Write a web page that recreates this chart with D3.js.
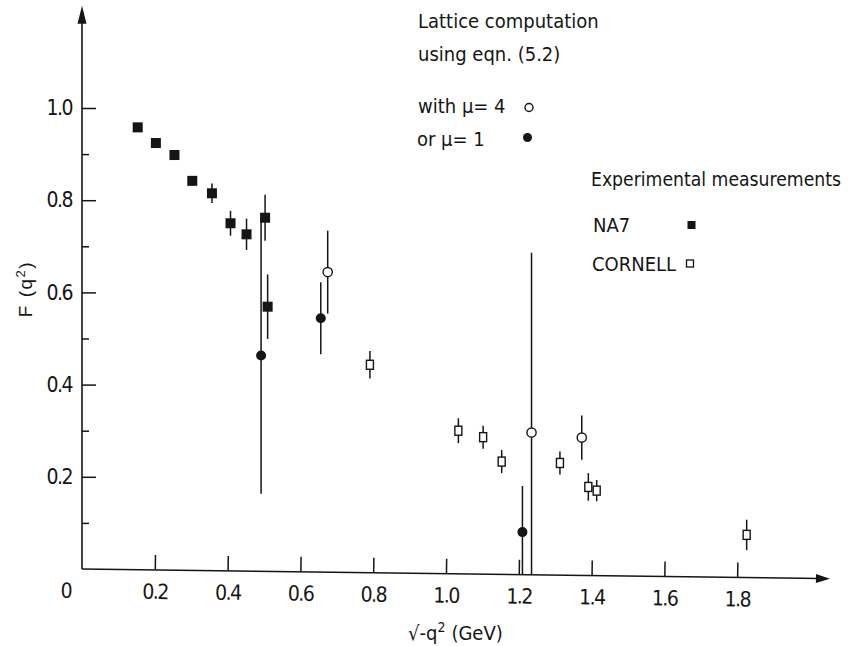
<!DOCTYPE html>
<html>
<head>
<meta charset="utf-8">
<script src="https://cdn.jsdelivr.net/npm/d3@7"></script>
<style>
  body { margin: 0; background: #fff; }
  svg { display: block; }
  .cond { font-family: "DejaVu Sans Condensed", "DejaVu Sans", sans-serif; fill: #151515; }
  .tick text { font-family: "DejaVu Sans Condensed", "DejaVu Sans", sans-serif; fill: #151515; }
</style>
</head>
<body>
<svg id="chart" width="848" height="646"></svg>
<script>
// NA7 measurements (filled squares)
const na7X   = [0.153, 0.203, 0.254, 0.303, 0.357, 0.408, 0.452, 0.503, 0.510];
const na7F   = [0.958, 0.924, 0.898, 0.842, 0.815, 0.750, 0.726, 0.762, 0.569];
const na7Err = [0.010, 0.010, 0.010, 0.010, 0.021, 0.027, 0.034, 0.050, 0.070];

// CORNELL measurements (open squares)
const cornellX   = [0.791, 1.034, 1.102, 1.153, 1.313, 1.391, 1.414, 1.826];
const cornellF   = [0.443, 0.300, 0.286, 0.233, 0.230, 0.178, 0.170, 0.074];
const cornellErr = [0.030, 0.027, 0.025, 0.025, 0.025, 0.030, 0.023, 0.033];

// Lattice computation, mu = 4 (open circles)
const mu4X   = [0.675, 1.235, 1.373];
const mu4F   = [0.644, 0.296, 0.285];
const mu4Err = [0.090, 0.390, 0.048];

// Lattice computation, mu = 1 (filled circles)
const mu1X   = [0.492, 0.656, 1.210];
const mu1F   = [0.463, 0.544, 0.080];
const mu1Err = [0.300, 0.078, 0.100];

// Axis ticks
const xTicks      = [0.2, 0.4, 0.6, 0.8, 1.0, 1.2, 1.4, 1.6, 1.8];
const yTicks      = [0.2, 0.4, 0.6, 0.8, 1.0];
const yMinorTicks = [0.1, 0.3, 0.5, 0.7, 0.9];
const xAxisEnd = 2.055;
const yAxisEnd = 1.222;

const ink = "#151515";
const svg = d3.select("#chart");

const x = d3.scaleLinear().domain([0, 1]).range([82, 446]);
const y = d3.scaleLinear().domain([0, 1]).range([569, 108]);

// the horizontal axis is drawn with a slight downward slant
const tiltDeg = 0.74;
const tilt = Math.tan(tiltDeg * Math.PI / 180);
const baseAt = px => y(0) + (px - x(0)) * tilt;

// ---- vertical axis ----
const yg = svg.append("g");
yg.append("line")
  .attr("x1", x(0)).attr("x2", x(0))
  .attr("y1", y(0)).attr("y2", y(yAxisEnd) + 12)
  .attr("stroke", ink).attr("stroke-width", 1.6);
yg.append("path")
  .attr("d", `M${x(0)},${y(yAxisEnd)} L${x(0) - 4.5},${y(yAxisEnd) + 18} L${x(0) + 4.5},${y(yAxisEnd) + 18} Z`)
  .attr("fill", ink);

const yAxis = d3.axisLeft(y)
  .tickValues(yTicks)
  .tickFormat(d3.format(".1f"))
  .tickSizeInner(-14).tickSizeOuter(0).tickPadding(10);
yg.append("g").attr("transform", `translate(${x(0)},0)`).call(yAxis)
  .call(g => g.select(".domain").remove())
  .call(g => g.selectAll(".tick line").attr("stroke", ink).attr("stroke-width", 1.5))
  .call(g => g.selectAll(".tick text").attr("font-size", 21).attr("letter-spacing", -1.5));

const yMinor = d3.axisLeft(y).tickValues(yMinorTicks).tickFormat("")
  .tickSizeInner(-7).tickSizeOuter(0);
yg.append("g").attr("transform", `translate(${x(0)},0)`).call(yMinor)
  .call(g => g.select(".domain").remove())
  .call(g => g.selectAll(".tick line").attr("stroke", ink).attr("stroke-width", 1.5));

// ---- horizontal axis ----
const xg = svg.append("g").attr("transform", `rotate(${tiltDeg},${x(0)},${y(0)})`);
xg.append("line")
  .attr("x1", x(0)).attr("x2", x(xAxisEnd) - 10)
  .attr("y1", y(0)).attr("y2", y(0))
  .attr("stroke", ink).attr("stroke-width", 1.6);
xg.append("path")
  .attr("d", `M${x(xAxisEnd)},${y(0)} L${x(xAxisEnd) - 14},${y(0) - 4.5} L${x(xAxisEnd) - 14},${y(0) + 4.5} Z`)
  .attr("fill", ink);

const xAxis = d3.axisBottom(x)
  .tickValues(xTicks)
  .tickFormat(d3.format(".1f"))
  .tickSizeInner(-15).tickSizeOuter(0).tickPadding(14);
xg.append("g").attr("transform", `translate(0,${y(0)})`).call(xAxis)
  .call(g => g.select(".domain").remove())
  .call(g => g.selectAll(".tick line").attr("stroke", ink).attr("stroke-width", 1.5))
  .call(g => g.selectAll(".tick text").attr("font-size", 21).attr("letter-spacing", -1.5));

// origin label
xg.append("text").attr("class", "cond")
  .attr("x", x(0) - 15).attr("y", y(0) + 14).attr("dy", "0.71em")
  .attr("text-anchor", "middle").attr("font-size", 21)
  .text("0");

// ---- axis titles ----
svg.append("text")
  .attr("transform", "translate(32,289) rotate(-90)")
  .attr("text-anchor", "middle")
  .attr("font-family", "'Liberation Sans', Arial, sans-serif")
  .attr("font-size", 19).attr("letter-spacing", 1.5).attr("fill", ink)
  .call(t => {
    t.append("tspan").text("F (q");
    t.append("tspan").attr("font-size", 13).attr("dy", -7).text("2");
    t.append("tspan").attr("dy", 7).text(")");
  });

svg.append("text").attr("class", "cond")
  .attr("x", 408).attr("y", 640)
  .attr("font-size", 20)
  .call(t => {
    t.append("tspan").text("√-q");
    t.append("tspan").attr("font-size", 14).attr("dy", -8).text("2");
    t.append("tspan").attr("dy", 8).attr("dx", 6).text("(GeV)");
  });

// ---- data ----
function series(xs, fs, es) {
  return xs.map((u, i) => ({ u, f: fs[i], e: es[i] }));
}
const na7 = series(na7X, na7F, na7Err);
const cornell = series(cornellX, cornellF, cornellErr);
const mu4 = series(mu4X, mu4F, mu4Err);
const mu1 = series(mu1X, mu1F, mu1Err);

const plot = svg.append("g");
function errorBars(data) {
  plot.append("g").selectAll("line").data(data).join("line")
    .attr("x1", d => x(d.u)).attr("x2", d => x(d.u))
    .attr("y1", d => y(d.f + d.e))
    .attr("y2", d => Math.min(y(d.f - d.e), baseAt(x(d.u))))
    .attr("stroke", ink).attr("stroke-width", 1.5);
}
[mu1, mu4, na7, cornell].forEach(errorBars);

plot.append("g").selectAll("rect").data(na7).join("rect")
  .attr("x", d => x(d.u) - 5).attr("y", d => y(d.f) - 5)
  .attr("width", 10).attr("height", 10).attr("fill", ink);

plot.append("g").selectAll("rect").data(cornell).join("rect")
  .attr("x", d => x(d.u) - 3.5).attr("y", d => y(d.f) - 4.5)
  .attr("width", 7).attr("height", 9)
  .attr("fill", "#fff").attr("stroke", ink).attr("stroke-width", 1.4);

plot.append("g").selectAll("circle").data(mu4).join("circle")
  .attr("cx", d => x(d.u)).attr("cy", d => y(d.f)).attr("r", 4.6)
  .attr("fill", "#fff").attr("stroke", ink).attr("stroke-width", 1.4);

plot.append("g").selectAll("circle").data(mu1).join("circle")
  .attr("cx", d => x(d.u)).attr("cy", d => y(d.f)).attr("r", 5)
  .attr("fill", ink);

// ---- legend ----
const leg = svg.append("g").attr("class", "cond").attr("font-size", 20);
leg.append("text").attr("x", 418).attr("y", 28).text("Lattice computation");
leg.append("text").attr("x", 418).attr("y", 61).text("using eqn. (5.2)");
leg.append("text").attr("x", 418).attr("y", 113).text("with μ= 4");
leg.append("text").attr("x", 417).attr("y", 146).text("or μ= 1");
leg.append("circle").attr("cx", 529).attr("cy", 107.5).attr("r", 4)
  .attr("fill", "#fff").attr("stroke", ink).attr("stroke-width", 1.4);
leg.append("circle").attr("cx", 527.5).attr("cy", 137.5).attr("r", 4.5).attr("fill", ink);

leg.append("text").attr("x", 591).attr("y", 186).attr("font-size", 19.2)
  .text("Experimental measurements");
leg.append("text").attr("x", 593).attr("y", 232).text("NA7");
leg.append("text").attr("x", 592).attr("y", 271).text("CORNELL");
leg.append("rect").attr("x", 687.5).attr("y", 221).attr("width", 8).attr("height", 8).attr("fill", ink);
leg.append("rect").attr("x", 686.5).attr("y", 260).attr("width", 7).attr("height", 7)
  .attr("fill", "#fff").attr("stroke", ink).attr("stroke-width", 1.3);
</script>
</body>
</html>
